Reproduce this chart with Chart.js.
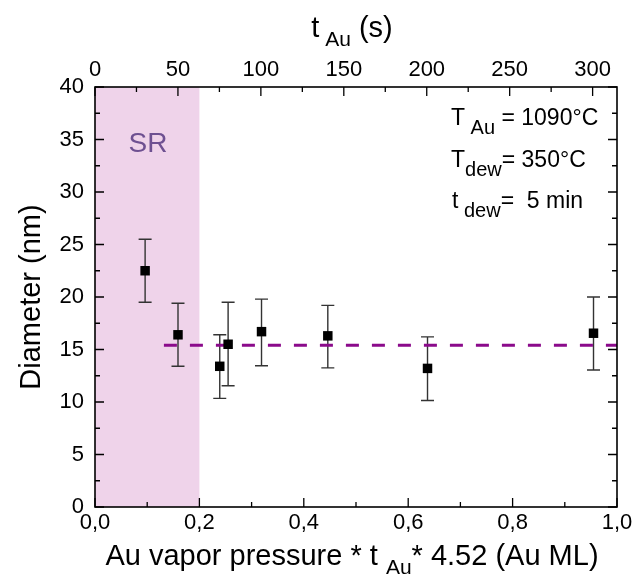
<!DOCTYPE html>
<html>
<head>
<meta charset="utf-8">
<script src="https://cdn.jsdelivr.net/npm/chart.js@4.4.0/dist/chart.umd.min.js"></script>
<style>
  html, body { margin: 0; padding: 0; background: #fff; }
</style>
</head>
<body>
<canvas id="diamChart" width="636" height="586"></canvas>
<script>
// Coverage (Au ML) vs particle diameter (nm)
const coverage = [0.096, 0.159, 0.239, 0.255, 0.319, 0.446, 0.637, 0.955];
const diameter = [22.5, 16.4, 13.4, 15.5, 16.7, 16.3, 13.2, 16.55];
const errLow   = [19.5, 13.4, 10.35, 11.55, 13.45, 13.25, 10.15, 13.05];
const errHigh  = [25.5, 19.4, 16.4, 19.5, 19.8, 19.2, 16.2, 20.0];

// Dashed average line
const fitX = [0.132, 1.0];
const fitY = [15.4, 15.4];

// Shaded "SR" region on the coverage axis
const srRange = [0, 0.2];

// Axis ticks
const xMajor = [0, 0.2, 0.4, 0.6, 0.8, 1.0];
const xMinor = [0.1, 0.3, 0.5, 0.7, 0.9];
const yMajor = [0, 5, 10, 15, 20, 25, 30, 35, 40];
const yMinor = [2.5, 7.5, 12.5, 17.5, 22.5, 27.5, 32.5, 37.5];
const tMajor = [0, 50, 100, 150, 200, 250, 300];
const tMinor = [25, 75, 125, 175, 225, 275];
const tMax = 314.7; // t_Au (s) at coverage 1.0

const FONT = "'Liberation Sans', Arial, sans-serif";

function drawParts(ctx, parts, x, y, align) {
  // parts: [text, fontSize, dy]
  let w = 0;
  parts.forEach(p => { ctx.font = p[1] + 'px ' + FONT; w += ctx.measureText(p[0]).width; });
  let cx = align === 'center' ? x - w / 2 : x;
  ctx.textAlign = 'left';
  parts.forEach(p => {
    ctx.font = p[1] + 'px ' + FONT;
    ctx.fillText(p[0], cx, y + p[2]);
    cx += ctx.measureText(p[0]).width;
  });
}

const decorations = {
  id: 'decorations',
  beforeDatasetsDraw(chart) {
    const { ctx, chartArea: a, scales: { x, y } } = chart;
    ctx.save();
    // SR shading
    const sx0 = x.getPixelForValue(srRange[0]);
    const sx1 = x.getPixelForValue(srRange[1]);
    ctx.fillStyle = '#efd3ea';
    ctx.fillRect(sx0, a.top, sx1 - sx0, a.bottom - a.top);

    // error bars
    ctx.strokeStyle = '#333';
    ctx.lineWidth = 1.4;
    coverage.forEach((cv, i) => {
      const px = x.getPixelForValue(cv);
      const lo = y.getPixelForValue(errLow[i]);
      const hi = y.getPixelForValue(errHigh[i]);
      ctx.beginPath();
      ctx.moveTo(px, lo); ctx.lineTo(px, hi);
      ctx.moveTo(px - 6.5, lo); ctx.lineTo(px + 6.5, lo);
      ctx.moveTo(px - 6.5, hi); ctx.lineTo(px + 6.5, hi);
      ctx.stroke();
    });
    ctx.restore();
  },
  afterDraw(chart) {
    const { ctx, chartArea: a, scales: { x, y, x2 } } = chart;
    ctx.save();
    ctx.strokeStyle = '#000';
    ctx.lineWidth = 1.6;
    ctx.strokeRect(a.left, a.top, a.right - a.left, a.bottom - a.top);

    // inward ticks
    ctx.lineWidth = 1.3;
    ctx.beginPath();
    const hTick = (scale, vals, len) => vals.forEach(v => {
      const p = scale.getPixelForValue(v);
      ctx.moveTo(p, a.bottom); ctx.lineTo(p, a.bottom - len);
    });
    const topTick = (vals, len) => vals.forEach(v => {
      const p = x2.getPixelForValue(v);
      ctx.moveTo(p, a.top); ctx.lineTo(p, a.top + len);
    });
    const vTick = (vals, len) => vals.forEach(v => {
      const p = y.getPixelForValue(v);
      ctx.moveTo(a.left, p); ctx.lineTo(a.left + len, p);
      ctx.moveTo(a.right, p); ctx.lineTo(a.right - len, p);
    });
    hTick(x, xMajor, 9); hTick(x, xMinor, 5);
    topTick(tMajor, 9); topTick(tMinor, 5);
    vTick(yMajor, 9); vTick(yMinor, 5);
    ctx.stroke();

    // texts
    ctx.fillStyle = '#000';
    ctx.textBaseline = 'alphabetic';
    drawParts(ctx, [['t', 29, 0], [' Au', 21, 9], [' (s)', 29, 0]], 352, 37, 'center');
    drawParts(ctx, [['Au vapor pressure * t ', 29, 0], ['Au', 21, 9], ['* 4.52 (Au ML)', 29, 0]], 352, 565, 'center');

    drawParts(ctx, [['T', 23, 0], [' Au', 20, 9], [' = 1090°C', 23, 0]], 451, 125, 'left');
    drawParts(ctx, [['T', 23, 0], ['dew', 20, 9], ['= 350°C', 23, 0]], 451, 167, 'left');
    drawParts(ctx, [['t', 23, 0], [' dew', 20, 9], ['=  5 min', 23, 0]], 452, 208, 'left');

    ctx.save();
    ctx.translate(32, (a.top + a.bottom) / 2);
    ctx.rotate(-Math.PI / 2);
    ctx.textAlign = 'center';
    ctx.textBaseline = 'middle';
    ctx.font = '29px ' + FONT;
    ctx.fillText('Diameter (nm)', 0, 0);
    ctx.restore();

    ctx.fillStyle = '#6e5091';
    ctx.font = '28px ' + FONT;
    ctx.textAlign = 'center';
    ctx.fillText('SR', 148, 152);
    ctx.restore();
  }
};

const tickFont = { family: FONT, size: 22 };

new Chart(document.getElementById('diamChart'), {
  type: 'scatter',
  data: {
    datasets: [
      {
        label: 'Diameter',
        data: coverage.map((cv, i) => ({ x: cv, y: diameter[i] })),
        pointStyle: 'rect',
        pointRadius: 6.7,
        pointHoverRadius: 6.7,
        backgroundColor: '#000',
        borderWidth: 0,
        xAxisID: 'x',
        yAxisID: 'y'
      },
      {
        label: 'Mean',
        type: 'line',
        data: fitX.map((fx, i) => ({ x: fx, y: fitY[i] })),
        borderColor: '#8b0a8b',
        borderWidth: 3,
        borderDash: [13, 13],
        pointRadius: 0,
        fill: false,
        xAxisID: 'x',
        yAxisID: 'y'
      }
    ]
  },
  options: {
    responsive: false,
    animation: false,
    layout: { padding: { left: 0, right: 19, top: 0, bottom: 0 } },
    plugins: { legend: { display: false }, tooltip: { enabled: false } },
    scales: {
      x: {
        type: 'linear', position: 'bottom', min: 0, max: 1,
        grid: { display: false, drawTicks: false },
        border: { display: false },
        ticks: {
          stepSize: 0.2, autoSkip: false, maxRotation: 0, padding: 3,
          font: tickFont, color: '#000',
          callback: v => v.toFixed(1).replace('.', ',')
        },
        afterFit: s => { s.height = 79; }
      },
      x2: {
        type: 'linear', position: 'top', min: 0, max: tMax,
        grid: { display: false, drawTicks: false },
        border: { display: false },
        ticks: {
          stepSize: 50, includeBounds: false, autoSkip: false, maxRotation: 0, padding: 4,
          font: tickFont, color: '#000',
          callback: v => (tMajor.includes(v) ? String(v) : null)
        },
        afterFit: s => { s.height = 87; }
      },
      y: {
        type: 'linear', position: 'left', min: 0, max: 40,
        grid: { display: false, drawTicks: false },
        border: { display: false },
        ticks: { stepSize: 5, padding: 11, font: tickFont, color: '#000' },
        afterFit: s => { s.width = 95; }
      }
    }
  },
  plugins: [decorations]
});
</script>
</body>
</html>
